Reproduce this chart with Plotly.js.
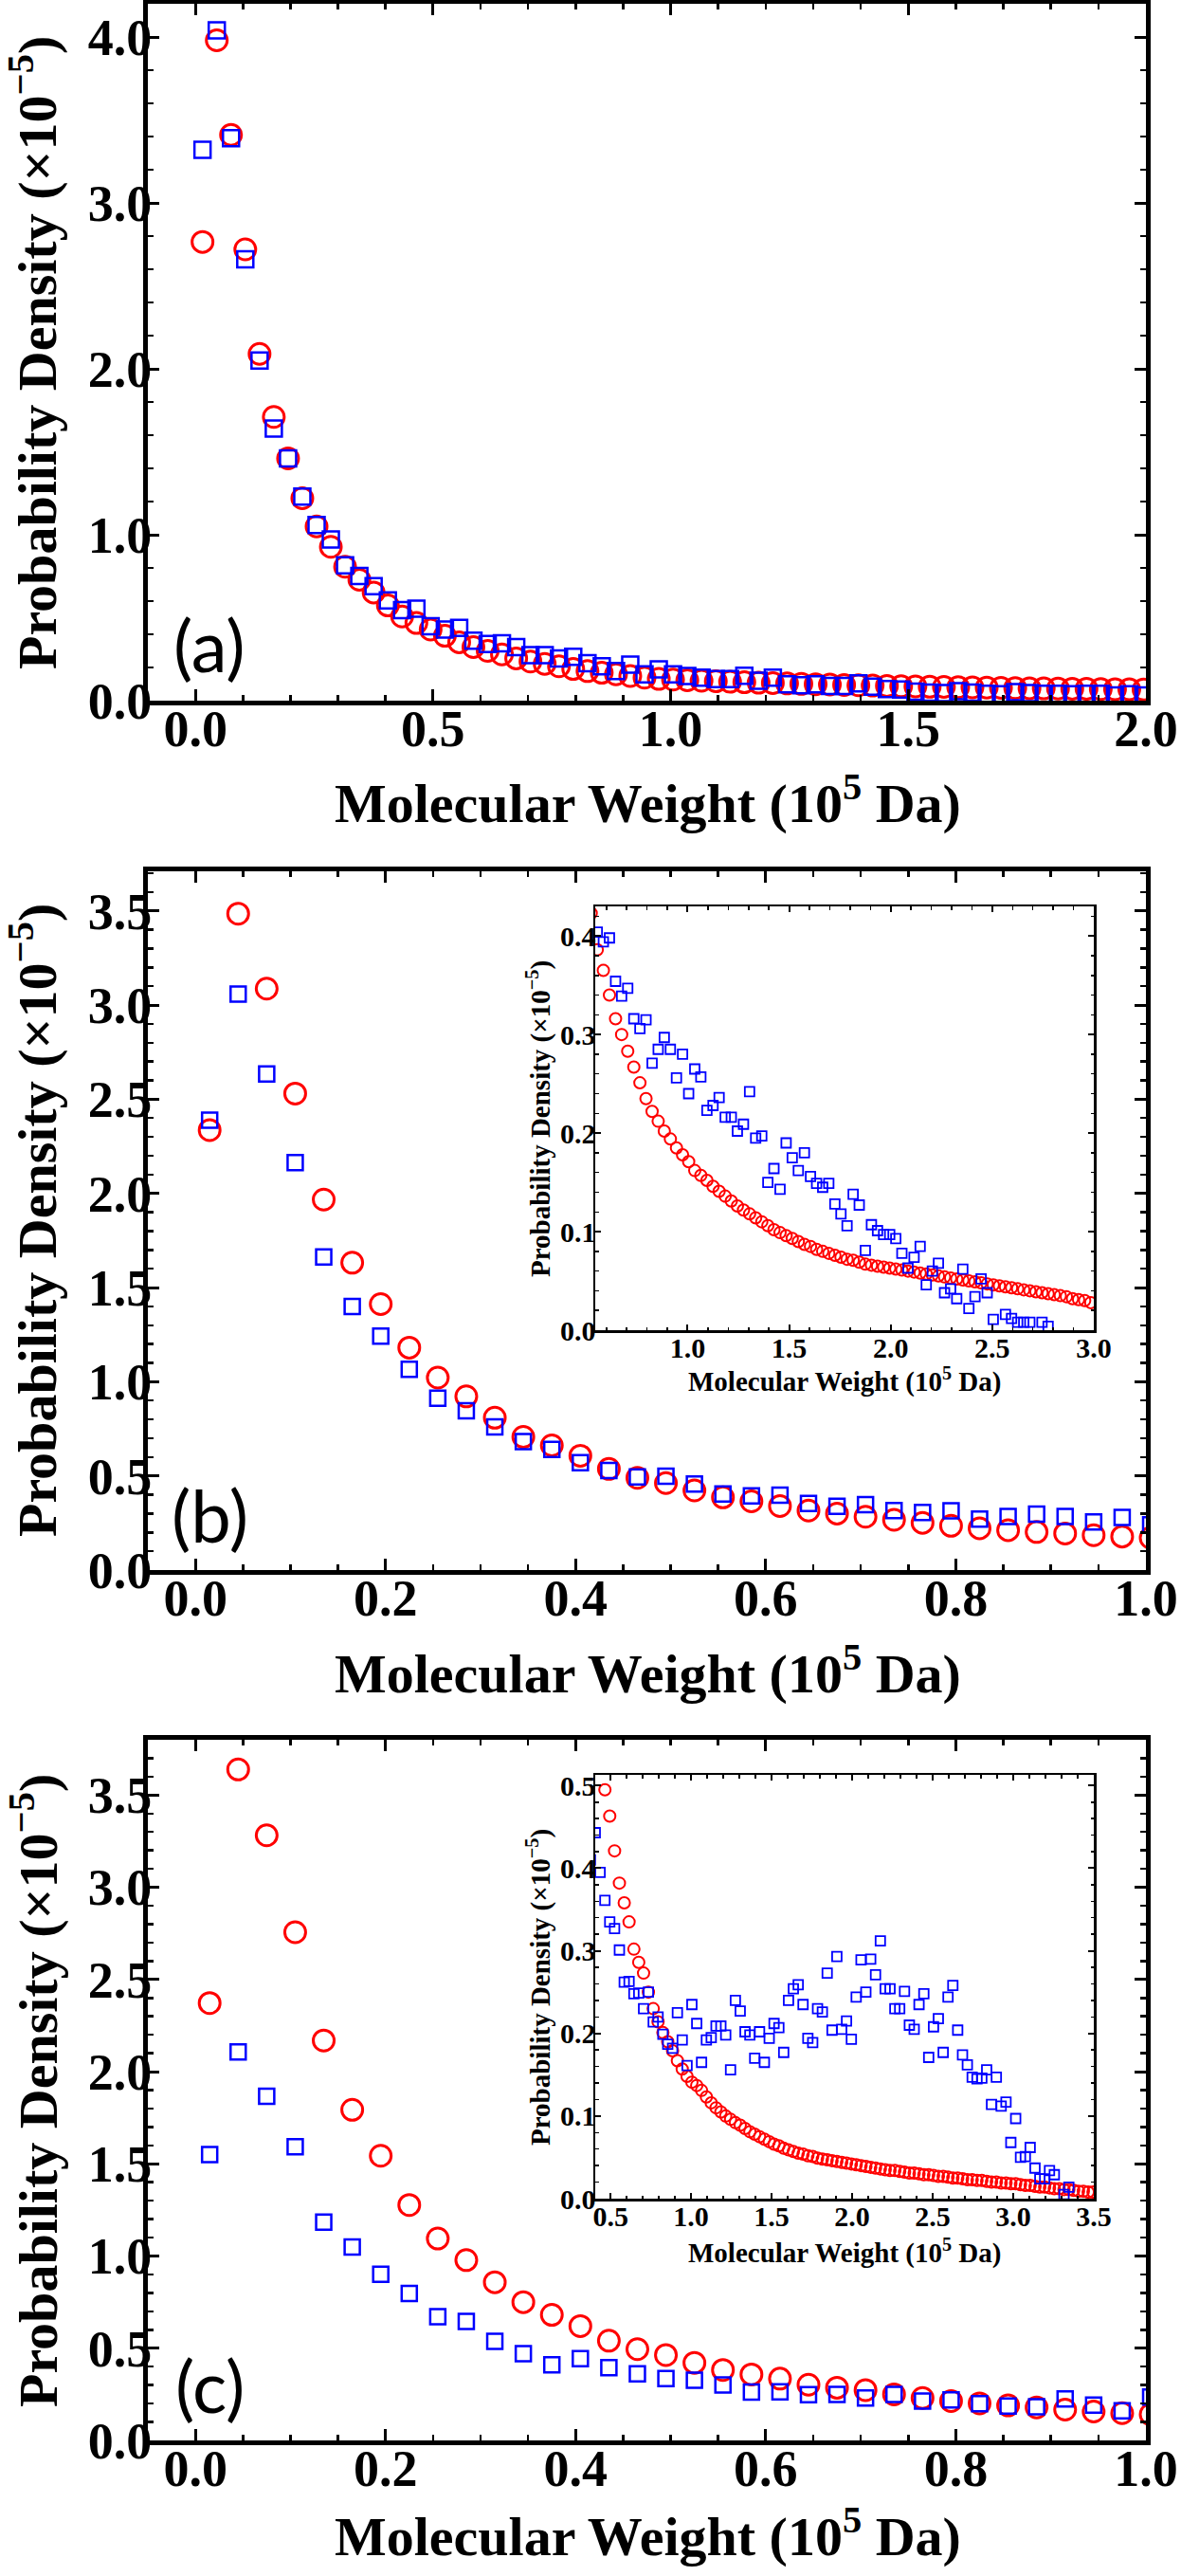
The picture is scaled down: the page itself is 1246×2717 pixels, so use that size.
<!DOCTYPE html>
<html><head><meta charset="utf-8">
<script src="https://cdn.plot.ly/plotly-3.0.1.min.js"></script>
<style>html,body{margin:0;padding:0;background:#fff}#chart{width:1246px;height:2717px}</style>
</head><body><div id="chart"></div>
<script>
// ---------------- DATA ----------------
// Molecular weight bin centres (10^5 Da)
const molWeight = [
0.015,0.045,0.075,0.105,0.135,0.165,0.195,0.225,0.255,0.285,
0.315,0.345,0.375,0.405,0.435,0.465,0.495,0.525,0.555,0.585,
0.615,0.645,0.675,0.705,0.735,0.765,0.795,0.825,0.855,0.885,
0.915,0.945,0.975,1.005,1.035,1.065,1.095,1.125,1.155,1.185,
1.215,1.245,1.275,1.305,1.335,1.365,1.395,1.425,1.455,1.485,
1.515,1.545,1.575,1.605,1.635,1.665,1.695,1.725,1.755,1.785,
1.815,1.845,1.875,1.905,1.935,1.965,1.995,2.025,2.055,2.085,
2.115,2.145,2.175,2.205,2.235,2.265,2.295,2.325,2.355,2.385,
2.415,2.445,2.475,2.505,2.535,2.565,2.595,2.625,2.655,2.685,
2.715,2.745,2.775,2.805,2.835,2.865,2.895,2.925,2.955,2.985,
3.015,3.045,3.075,3.105,3.135,3.165,3.195,3.225,3.255,3.285,
3.315,3.345,3.375,3.405,3.435,3.465,3.495];

// Panel (a) probability density (x10^-5)
const redA = [
2.765,3.98,3.41,2.72,2.09,1.71,1.46,1.22,1.05,0.927,
0.807,0.729,0.652,0.574,0.507,0.468,0.429,0.391,0.352,0.323,
0.300,0.279,0.255,0.236,0.222,0.207,0.191,0.178,0.168,0.159,
0.149,0.139,0.131,0.127,0.123,0.120,0.117,0.114,0.111,0.108,
0.106,0.104,0.101,0.099,0.097,0.095,0.093,0.091,0.089,0.087,
0.086,0.084,0.083,0.081,0.080,0.079,0.077,0.076,0.075,0.074,
0.073,0.072,0.071,0.070,0.069,0.068,0.067];
const blueA = [
3.32,4.04,3.39,2.66,2.05,1.64,1.46,1.23,1.058,0.971,
0.816,0.752,0.690,0.604,0.546,0.555,0.449,0.429,0.439,0.362,
0.342,0.346,0.323,0.275,0.275,0.255,0.265,0.226,0.207,0.178,
0.217,0.159,0.188,0.159,0.149,0.139,0.130,0.130,0.150,0.120,
0.139,0.099,0.093,0.099,0.089,0.089,0.105,0.084,0.070,0.067,
0.055,0.049,0.046,0.057,0.049,0.042,0.038,0.051,0.046,0.042,
0.042,0.038,0.042,0.042,0.032,0.038,0.032];

// Panel (b)
const redB = [
2.336,3.485,3.087,2.530,1.967,1.632,1.412,1.181,1.022,0.922,
0.809,0.707,0.662,0.607,0.537,0.490,0.462,0.423,0.386,0.365,
0.340,0.316,0.300,0.283,0.267,0.251,0.235,0.222,0.212,0.202,
0.194,0.185,0.178,0.171,0.162,0.157,0.152,0.146,0.141,0.136,
0.131,0.126,0.122,0.118,0.114,0.110,0.106,0.102,0.099,0.096,
0.093,0.090,0.087,0.085,0.082,0.080,0.078,0.076,0.074,0.072,
0.071,0.069,0.067,0.066,0.065,0.064,0.063,0.062,0.061,0.060,
0.059,0.058,0.057,0.056,0.055,0.054,0.053,0.052,0.051,0.050,
0.049,0.048,0.047,0.046,0.045,0.044,0.043,0.042,0.041,0.040,
0.039,0.038,0.037,0.036,0.035,0.034,0.032,0.031,0.030,0.028];
const blueB = [
2.388,3.058,2.634,2.163,1.663,1.400,1.242,1.066,0.913,0.846,
0.760,0.682,0.640,0.570,0.528,0.495,0.498,0.457,0.404,0.394,
0.398,0.354,0.339,0.347,0.316,0.306,0.315,0.271,0.285,0.297,
0.285,0.256,0.280,0.240,0.265,0.257,0.223,0.228,0.236,0.216,
0.216,0.202,0.209,0.242,0.195,0.197,0.150,0.164,0.143,0.190,
0.175,0.162,0.180,0.156,0.149,0.145,0.149,0.128,0.118,0.106,
0.138,0.127,0.081,0.107,0.101,0.097,0.097,0.093,0.078,0.063,
0.074,0.085,0.046,0.060,0.068,0.038,0.042,0.032,0.062,0.022,
0.034,0.052,0.038,0.011,null,0.016,0.012,0.008,0.008,0.008,
null,0.008,0.004,null,null,null,null,null,null,null];

// Panel (c)
const redC = [
2.372,3.639,3.282,2.756,2.169,1.793,1.544,1.277,1.095,0.978,
0.858,0.750,0.681,0.620,0.541,0.495,0.463,0.421,0.382,0.358,
0.335,0.302,0.286,0.273,0.250,0.230,0.214,0.201,0.190,0.179,
0.167,0.157,0.148,0.141,0.137,0.131,0.123,0.116,0.110,0.105,
0.100,0.096,0.092,0.089,0.085,0.081,0.078,0.075,0.072,0.069,
0.066,0.064,0.061,0.059,0.057,0.055,0.054,0.052,0.051,0.049,
0.048,0.047,0.046,0.045,0.044,0.043,0.042,0.041,0.040,0.039,
0.038,0.037,0.036,0.035,0.034,0.034,0.033,0.032,0.031,0.031,
0.030,0.029,0.029,0.028,0.027,0.027,0.026,0.025,0.025,0.024,
0.023,0.023,0.022,0.022,0.021,0.020,0.020,0.019,0.019,0.018,
0.018,0.017,0.016,0.016,0.015,0.014,0.014,0.013,0.012,0.012,
0.011,0.011,0.010,0.009,0.009,0.008,0.008];
const blueC = [
1.550,2.107,1.867,1.593,1.184,1.049,0.901,0.797,0.671,0.645,
0.537,0.471,0.410,0.443,0.395,0.361,0.335,0.327,0.301,0.262,
0.263,0.248,0.249,0.230,0.250,0.214,0.220,0.199,0.187,0.182,
0.225,0.192,0.161,0.235,0.212,0.165,0.192,0.195,0.209,0.209,
0.198,0.156,0.240,0.227,0.202,0.198,0.170,0.202,0.165,0.194,
0.212,0.207,0.177,0.240,0.254,0.259,0.235,0.194,0.189,0.230,
0.226,0.273,0.204,0.293,0.205,0.215,0.193,0.244,0.289,0.250,
0.290,0.271,0.312,0.254,0.254,0.230,0.230,0.251,0.210,0.205,
0.235,0.248,0.171,0.208,0.218,0.177,0.244,0.258,0.204,0.174,
0.162,0.147,0.145,0.146,0.156,0.114,0.147,0.112,0.117,0.068,
0.097,0.050,0.051,0.062,0.037,0.024,0.024,0.034,0.029,null,
0.005,0.014,null,null,null,null,null];

const xTitle = 'Molecular Weight (10<sup>5</sup> Da)';
const yTitle = 'Probability Density (×10<sup>−5</sup>)';
const panelLabels = ['(a)', '(b)', '(c)'];

// ---------------- LAYOUT ----------------
const W = 1246, H = 2717;
const RED = '#ff0000', BLUE = '#0000ff';
const SERIF = 'Liberation Serif, Times New Roman, serif';
const dx = (l, r) => [l / W, r / W];
const dy = (t, b) => [1 - b / H, 1 - t / H];
const px = v => v / W;
const py = v => 1 - v / H;

function mkAxis(o) {
  const main = o.main;
  return {
    domain: o.domain, range: o.range, anchor: o.anchor,
    tick0: 0, dtick: o.dtick, tickformat: '.1f',
    ticks: 'inside', ticklen: main ? 12 : 6, tickwidth: main ? 3 : 2, tickcolor: '#000',
    minor: {dtick: o.minor, ticks: 'inside', ticklen: main ? 6 : 3.5, tickwidth: main ? 2.5 : 1.5, tickcolor: '#000', showgrid: false},
    showline: true, linewidth: main ? 5 : 2.5, linecolor: '#000', mirror: 'allticks',
    showgrid: false, zeroline: false,
    tickfont: {family: SERIF, size: main ? 54 : 30, color: '#000', weight: 'bold'},
    ticklabelstandoff: o.tls || 0,
    fixedrange: true
  };
}

const mainX = [156, 1209];
const insetX = [628, 1154];

// axis titles & panel labels as annotations (positions in page px)
function title(text, x, y, size, vertical) {
  return {text: text, xref: 'paper', yref: 'paper', x: px(x), y: py(y),
    xanchor: 'center', yanchor: 'middle', showarrow: false, textangle: vertical ? -90 : 0,
    font: {family: SERIF, size: size, color: '#000', weight: 'bold'}};
}
const annotations = [
  title(xTitle, 683, 844, 58, false),
  title(yTitle, 36, 372, 58, true),
  title(xTitle, 683, 1761, 58, false),
  title(yTitle, 36, 1287, 58, true),
  title(xTitle, 891, 1455, 29, false),
  title(yTitle, 568, 1180, 29, true),
  title(xTitle, 683, 2671, 58, false),
  title(yTitle, 36, 2205, 58, true),
  title(xTitle, 891, 2374, 29, false),
  title(yTitle, 568, 2096, 29, true)
].concat(panelLabels.map((t, i) => ({
  text: t, xref: 'paper', yref: 'paper', showarrow: false,
  x: px(221), y: py([680, 1597, 2515][i]), xanchor: 'center', yanchor: 'middle',
  font: {family: 'Lato, Open Sans, sans-serif', size: 76, color: '#000'}
})));

const layout = {
  width: W, height: H, margin: {l: 0, r: 0, t: 0, b: 0},
  paper_bgcolor: '#fff', plot_bgcolor: '#fff', showlegend: false,
  xaxis:  mkAxis({main: true, domain: dx(...mainX), range: [-0.1, 2.0], dtick: 0.5, minor: 0.1, anchor: 'y', tls: -22}),
  yaxis:  mkAxis({main: true, domain: dy(4, 739), range: [0, 4.2], dtick: 1, minor: 0.2, anchor: 'x', tls: -20}),
  xaxis2: mkAxis({main: true, domain: dx(...mainX), range: [-0.05, 1.0], dtick: 0.2, minor: 0.05, anchor: 'y2', tls: -22}),
  yaxis2: mkAxis({main: true, domain: dy(919, 1656), range: [0, 3.71], dtick: 0.5, minor: 0.1, anchor: 'x2', tls: -20}),
  xaxis3: mkAxis({main: false, domain: dx(...insetX), range: [0.545, 3.0], dtick: 0.5, minor: 0.1, anchor: 'y3', tls: -10}),
  yaxis3: mkAxis({main: false, domain: dy(956, 1403), range: [0, 0.43], dtick: 0.1, minor: 0.02, anchor: 'x3', tls: -9}),
  xaxis4: mkAxis({main: true, domain: dx(...mainX), range: [-0.05, 1.0], dtick: 0.2, minor: 0.05, anchor: 'y4', tls: -22}),
  yaxis4: mkAxis({main: true, domain: dy(1835, 2574), range: [0, 3.8], dtick: 0.5, minor: 0.1, anchor: 'x4', tls: -20}),
  xaxis5: mkAxis({main: false, domain: dx(...insetX), range: [0.405, 3.5], dtick: 0.5, minor: 0.1, anchor: 'y5', tls: -10}),
  yaxis5: mkAxis({main: false, domain: dy(1872, 2319), range: [0, 0.513], dtick: 0.1, minor: 0.02, anchor: 'x5', tls: -9}),
  annotations: annotations
};

function pts(xs, ys, color, symbol, size, lw, xa, ya) {
  return {
    type: 'scatter', mode: 'markers', x: xs.slice(0, ys.length), y: ys,
    xaxis: xa, yaxis: ya, cliponaxis: true, hoverinfo: 'skip',
    marker: {symbol: symbol, size: size, color: color, line: {color: color, width: lw}}
  };
}

const data = [
  pts(molWeight, redA, RED, 'circle-open', 22, 3, 'x', 'y'),
  pts(molWeight, blueA, BLUE, 'square-open', 17, 2.5, 'x', 'y'),
  pts(molWeight, redB, RED, 'circle-open', 22, 3, 'x2', 'y2'),
  pts(molWeight, blueB, BLUE, 'square-open', 16, 2.5, 'x2', 'y2'),
  pts(molWeight, redB, RED, 'circle-open', 12, 2, 'x3', 'y3'),
  pts(molWeight, blueB, BLUE, 'square-open', 10, 1.8, 'x3', 'y3'),
  pts(molWeight, redC, RED, 'circle-open', 22, 3, 'x4', 'y4'),
  pts(molWeight, blueC, BLUE, 'square-open', 16, 2.5, 'x4', 'y4'),
  pts(molWeight, redC, RED, 'circle-open', 12, 2, 'x5', 'y5'),
  pts(molWeight, blueC, BLUE, 'square-open', 10, 1.8, 'x5', 'y5')
];

Plotly.newPlot('chart', data, layout, {staticPlot: true, displayModeBar: false});
</script>
</body></html>
